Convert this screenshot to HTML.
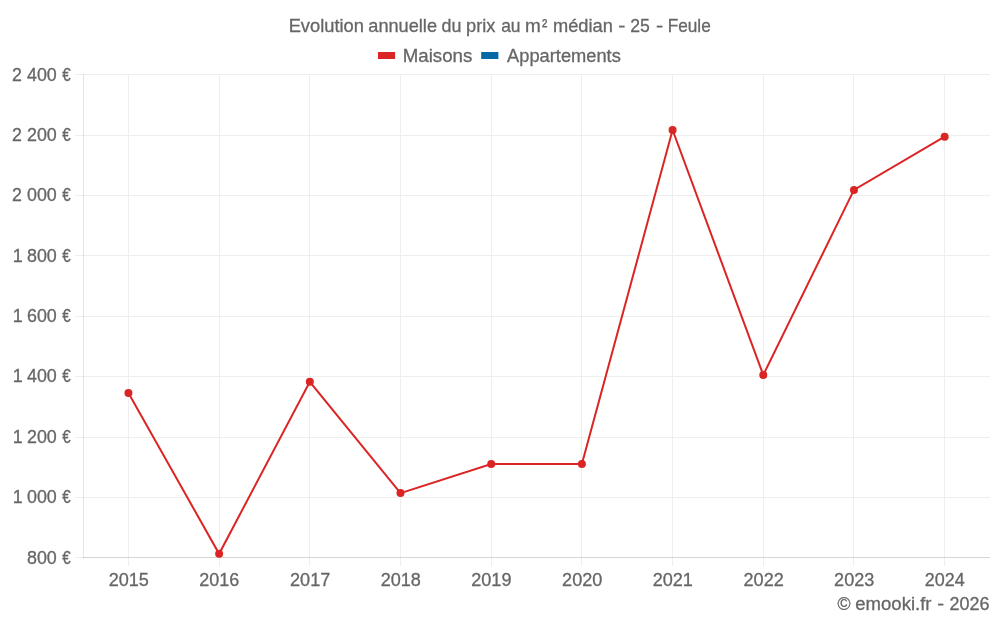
<!DOCTYPE html>
<html lang="fr"><head><meta charset="utf-8"><title>Evolution annuelle du prix au m² médian - 25 - Feule</title>
<style>
html,body{margin:0;padding:0;background:#fff;}
body{width:1000px;height:625px;overflow:hidden;}
svg{display:block;}
text{font-family:"Liberation Sans",sans-serif;font-size:18.67px;fill:#666;stroke:#666;stroke-width:0.3px;}
#title{font-size:18.4px;}
</style></head><body>
<svg width="1000" height="625" viewBox="0 0 1000 625">
<rect width="1000" height="625" fill="#fff"/>
<g shape-rendering="crispEdges" stroke="#eeeeee" stroke-width="1" fill="none">
<line x1="128.5" y1="74.0" x2="128.5" y2="566.0"/>
<line x1="219.5" y1="74.0" x2="219.5" y2="566.0"/>
<line x1="309.5" y1="74.0" x2="309.5" y2="566.0"/>
<line x1="400.5" y1="74.0" x2="400.5" y2="566.0"/>
<line x1="491.5" y1="74.0" x2="491.5" y2="566.0"/>
<line x1="581.5" y1="74.0" x2="581.5" y2="566.0"/>
<line x1="672.5" y1="74.0" x2="672.5" y2="566.0"/>
<line x1="763.5" y1="74.0" x2="763.5" y2="566.0"/>
<line x1="853.5" y1="74.0" x2="853.5" y2="566.0"/>
<line x1="944.5" y1="74.0" x2="944.5" y2="566.0"/>
<line x1="75" y1="74.5" x2="990.0" y2="74.5"/>
<line x1="75" y1="135.5" x2="990.0" y2="135.5"/>
<line x1="75" y1="195.5" x2="990.0" y2="195.5"/>
<line x1="75" y1="255.5" x2="990.0" y2="255.5"/>
<line x1="75" y1="316.5" x2="990.0" y2="316.5"/>
<line x1="75" y1="376.5" x2="990.0" y2="376.5"/>
<line x1="75" y1="437.5" x2="990.0" y2="437.5"/>
<line x1="75" y1="497.5" x2="990.0" y2="497.5"/>
<line x1="75" y1="557.5" x2="990.0" y2="557.5"/>
<line x1="83.5" y1="74.0" x2="83.5" y2="558.0" stroke="rgba(0,0,0,0.1)"/>
<line x1="83" y1="557.5" x2="990.0" y2="557.5" stroke="rgba(0,0,0,0.1)"/>
</g>
<path d="M128.44 393.10 L219.13 553.80 L309.82 381.80 L400.51 493.10 L491.21 464.00 L581.89 464.00 L672.59 130.00 L763.27 375.00 L853.97 189.90 L944.65 136.70" fill="none" stroke="#db2525" stroke-width="2" stroke-linejoin="miter"/>
<circle cx="128.44" cy="393.10" r="4" fill="#db2525"/>
<circle cx="219.13" cy="553.80" r="4" fill="#db2525"/>
<circle cx="309.82" cy="381.80" r="4" fill="#db2525"/>
<circle cx="400.51" cy="493.10" r="4" fill="#db2525"/>
<circle cx="491.21" cy="464.00" r="4" fill="#db2525"/>
<circle cx="581.89" cy="464.00" r="4" fill="#db2525"/>
<circle cx="672.59" cy="130.00" r="4" fill="#db2525"/>
<circle cx="763.27" cy="375.00" r="4" fill="#db2525"/>
<circle cx="853.97" cy="189.90" r="4" fill="#db2525"/>
<circle cx="944.65" cy="136.70" r="4" fill="#db2525"/>
<text id="title" y="31.6"><tspan x="288.65" textLength="75.28" lengthAdjust="spacingAndGlyphs">Evolution</tspan> <tspan x="368.30" textLength="68.70" lengthAdjust="spacingAndGlyphs">annuelle</tspan> <tspan x="441.50" textLength="19.87" lengthAdjust="spacingAndGlyphs">du</tspan> <tspan x="466.05" textLength="29.48" lengthAdjust="spacingAndGlyphs">prix</tspan> <tspan x="501.20" textLength="19.38" lengthAdjust="spacingAndGlyphs">au</tspan> <tspan x="524.90" textLength="15.79" lengthAdjust="spacingAndGlyphs">m</tspan><tspan x="541.90" textLength="5.34" lengthAdjust="spacingAndGlyphs">²</tspan> <tspan x="553.00" textLength="59.88" lengthAdjust="spacingAndGlyphs">médian</tspan> <tspan x="618.30" textLength="7.11" lengthAdjust="spacingAndGlyphs">-</tspan> <tspan x="630.30" textLength="19.63" lengthAdjust="spacingAndGlyphs">25</tspan> <tspan x="655.90" textLength="7.11" lengthAdjust="spacingAndGlyphs">-</tspan> <tspan x="667.70" textLength="43.03" lengthAdjust="spacingAndGlyphs">Feule</tspan></text>
<rect x="378" y="52" width="17.1" height="7" fill="#db2525"/>
<text y="62"><tspan x="402.75" textLength="69.51" lengthAdjust="spacingAndGlyphs">Maisons</tspan></text>
<rect x="481.2" y="52" width="17.2" height="7" fill="#0469a5"/>
<text y="62"><tspan x="507.05" textLength="113.80" lengthAdjust="spacingAndGlyphs">Appartements</tspan></text>
<text y="80.5"><tspan x="12.10" textLength="9.91" lengthAdjust="spacingAndGlyphs">2</tspan> <tspan x="26.95" textLength="29.84" lengthAdjust="spacingAndGlyphs">400</tspan> <tspan x="62.15" textLength="8.43" lengthAdjust="spacingAndGlyphs">€</tspan></text>
<text y="140.9"><tspan x="12.10" textLength="9.91" lengthAdjust="spacingAndGlyphs">2</tspan> <tspan x="26.95" textLength="29.84" lengthAdjust="spacingAndGlyphs">200</tspan> <tspan x="62.15" textLength="8.43" lengthAdjust="spacingAndGlyphs">€</tspan></text>
<text y="201.2"><tspan x="12.10" textLength="9.91" lengthAdjust="spacingAndGlyphs">2</tspan> <tspan x="26.95" textLength="29.84" lengthAdjust="spacingAndGlyphs">000</tspan> <tspan x="62.15" textLength="8.43" lengthAdjust="spacingAndGlyphs">€</tspan></text>
<text y="261.6"><tspan x="12.70" textLength="9.91" lengthAdjust="spacingAndGlyphs">1</tspan> <tspan x="26.95" textLength="29.84" lengthAdjust="spacingAndGlyphs">800</tspan> <tspan x="62.15" textLength="8.43" lengthAdjust="spacingAndGlyphs">€</tspan></text>
<text y="322.0"><tspan x="12.70" textLength="9.91" lengthAdjust="spacingAndGlyphs">1</tspan> <tspan x="26.95" textLength="29.84" lengthAdjust="spacingAndGlyphs">600</tspan> <tspan x="62.15" textLength="8.43" lengthAdjust="spacingAndGlyphs">€</tspan></text>
<text y="382.4"><tspan x="12.70" textLength="9.91" lengthAdjust="spacingAndGlyphs">1</tspan> <tspan x="26.95" textLength="29.84" lengthAdjust="spacingAndGlyphs">400</tspan> <tspan x="62.15" textLength="8.43" lengthAdjust="spacingAndGlyphs">€</tspan></text>
<text y="442.7"><tspan x="12.70" textLength="9.91" lengthAdjust="spacingAndGlyphs">1</tspan> <tspan x="26.95" textLength="29.84" lengthAdjust="spacingAndGlyphs">200</tspan> <tspan x="62.15" textLength="8.43" lengthAdjust="spacingAndGlyphs">€</tspan></text>
<text y="503.1"><tspan x="12.70" textLength="9.91" lengthAdjust="spacingAndGlyphs">1</tspan> <tspan x="26.95" textLength="29.84" lengthAdjust="spacingAndGlyphs">000</tspan> <tspan x="62.15" textLength="8.43" lengthAdjust="spacingAndGlyphs">€</tspan></text>
<text y="563.5"><tspan x="26.95" textLength="29.84" lengthAdjust="spacingAndGlyphs">800</tspan> <tspan x="62.15" textLength="8.43" lengthAdjust="spacingAndGlyphs">€</tspan></text>
<text y="585.6"><tspan x="108.64" textLength="40.25" lengthAdjust="spacingAndGlyphs">2015</tspan></text>
<text y="585.6"><tspan x="199.23" textLength="39.99" lengthAdjust="spacingAndGlyphs">2016</tspan></text>
<text y="585.6"><tspan x="290.07" textLength="40.25" lengthAdjust="spacingAndGlyphs">2017</tspan></text>
<text y="585.6"><tspan x="380.66" textLength="40.25" lengthAdjust="spacingAndGlyphs">2018</tspan></text>
<text y="585.6"><tspan x="471.26" textLength="40.25" lengthAdjust="spacingAndGlyphs">2019</tspan></text>
<text y="585.6"><tspan x="562.10" textLength="40.25" lengthAdjust="spacingAndGlyphs">2020</tspan></text>
<text y="585.6"><tspan x="652.69" textLength="40.25" lengthAdjust="spacingAndGlyphs">2021</tspan></text>
<text y="585.6"><tspan x="743.53" textLength="40.25" lengthAdjust="spacingAndGlyphs">2022</tspan></text>
<text y="585.6"><tspan x="834.12" textLength="40.25" lengthAdjust="spacingAndGlyphs">2023</tspan></text>
<text y="585.6"><tspan x="924.71" textLength="39.99" lengthAdjust="spacingAndGlyphs">2024</tspan></text>
<text y="610"><tspan x="837.40" textLength="13.03" lengthAdjust="spacingAndGlyphs">©</tspan> <tspan x="855.30" textLength="76.19" lengthAdjust="spacingAndGlyphs">emooki.fr</tspan> <tspan x="937.20" textLength="6.81" lengthAdjust="spacingAndGlyphs">-</tspan> <tspan x="949.40" textLength="40.00" lengthAdjust="spacingAndGlyphs">2026</tspan></text>
</svg></body></html>
